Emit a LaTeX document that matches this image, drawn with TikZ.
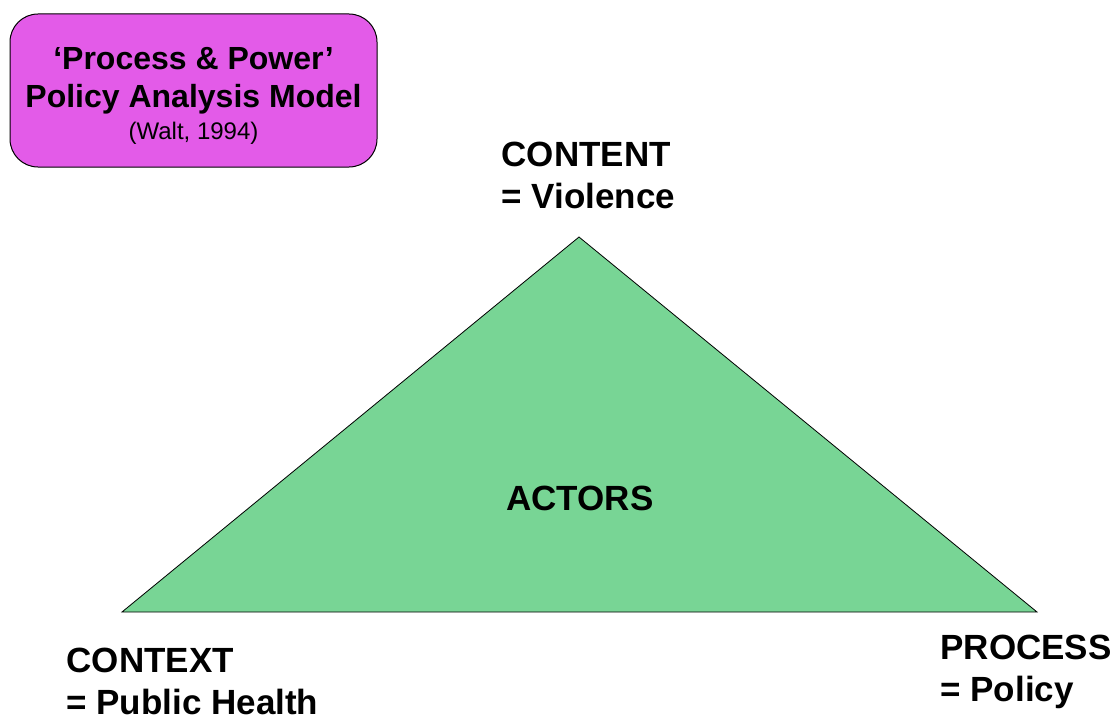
\documentclass[tikz,border=0pt]{standalone}
\usepackage{fontspec}
\setmainfont{Liberation Sans}
\definecolor{boxpink}{HTML}{E35BE8}
\definecolor{trigreen}{HTML}{78D595}
\tikzset{
  corner/.style={font=\fontsize{35}{42}\selectfont\bfseries, align=left, anchor=north west, inner sep=0pt},
  titlebox/.style={draw=black, fill=boxpink, rounded corners=28pt, minimum width=367pt, minimum height=153pt},
  titletext/.style={align=center, inner sep=0pt, font=\fontsize{32}{38}\selectfont\bfseries}
}
\begin{document}
\begin{tikzpicture}[x=1pt, y=-1pt, line width=1pt]
\useasboundingbox (0,0) rectangle (1115,717);
\coordinate (T) at (579,237);
\coordinate (L) at (122,612);
\coordinate (R) at (1037,612);
\draw[fill=trigreen, line width=0.8pt] (T) -- (L) -- (R) -- cycle;

\node (box) at (193.5,90.5) [titlebox] {};
\node (title) at ([yshift=-5pt]box.center) [titletext] {`Process \& Power'\\
  Policy Analysis Model\\[-6pt]
  {\mdseries\fontsize{24}{32}\selectfont (Walt, 1994)}};

\node (content) at (501,142) [corner] {CONTENT\\= Violence};
\node (context) at (66,648) [corner] {CONTEXT\\= Public Health};
\node (process) at (940,635) [corner] {PROCESS\\= Policy};
\node (actors) at (580,510) [font=\fontsize{35}{42}\selectfont\bfseries, anchor=base, inner sep=0pt] {ACTORS};
\end{tikzpicture}
\end{document}
